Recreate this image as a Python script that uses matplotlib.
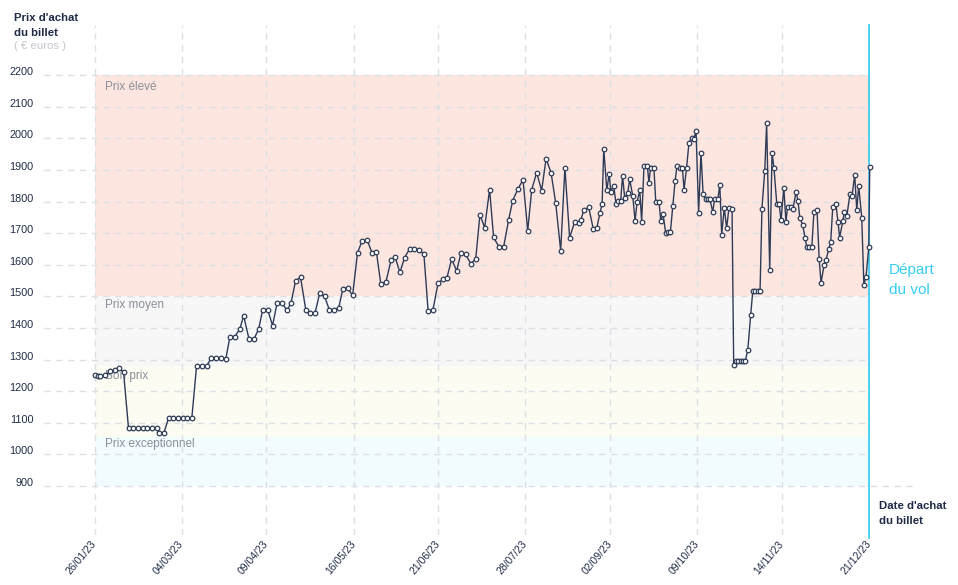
import matplotlib
matplotlib.use("Agg")
import matplotlib.pyplot as plt
import numpy as np
import pandas as pd

plt.rcParams['font.family'] = ['Liberation Sans', 'DejaVu Sans']

# ---------------- data ----------------
start_date = "2023-01-26"
day_offsets = [
    0, 1.3, 2.5, 4.4, 6.5, 8.6, 10.3, 12.3, 14.4, 16.4, 18.4, 20.4, 22.3, 24.3, 26.3,
    27.4, 29.4, 31.4, 33.4, 35.4, 37.4, 39.3, 41.3, 43.3, 45.5, 47.6, 49.4, 51.4, 53.5,
    55.7, 57.5, 59.6, 61.7, 63.3, 65.6, 67.7, 69.7, 71.4, 73.5, 75.6, 77.5, 79.7, 81.7,
    83.4, 85.4, 87.5, 89.7, 91.6, 93.6, 95.6, 97.7, 99.7, 101.7, 103.7, 105.5, 107.5,
    109.6, 111.7, 113.6, 115.7, 117.8, 119.7, 121.6, 123.8, 125.9, 127.6, 129.7, 131.7,
    133.8, 135.8, 137.9, 139.9, 141.7, 143.7, 145.9, 147.9, 149.6, 151.7, 153.8, 155.6,
    157.6, 159.8, 161.9, 163.7, 165.7, 167.8, 169.5, 171.7, 173.8, 175.9, 177.6, 179.9,
    182.0, 184.0, 185.7, 187.8, 189.9, 191.8, 193.9, 195.9, 198.0, 199.8, 201.8, 204.0,
    205.7, 206.6, 207.8, 209.9, 211.9, 213.3, 214.7, 215.6, 216.3, 217.6, 218.6, 219.3,
    220.5, 221.5, 222.4, 223.5, 224.3, 225.2, 226.5, 227.3, 228.6, 229.6, 230.5, 231.6,
    232.4, 233.4, 234.8, 235.5, 236.2, 237.6, 238.4, 239.8, 240.5, 241.5, 242.6, 243.6,
    244.6, 245.6, 246.6, 247.4, 248.7, 249.7, 250.4, 251.5, 252.5, 253.7, 254.6, 255.5,
    256.6, 257.6, 258.5, 259.6, 260.7, 261.4, 262.6, 263.4, 264.8, 265.6, 266.4, 267.5,
    268.5, 269.5, 270.8, 271.5, 272.5, 273.5, 274.5, 275.5, 276.4, 277.5, 278.7, 279.6,
    280.6, 281.7, 282.7, 283.5, 284.7, 285.5, 286.8, 287.8, 288.6, 289.8, 290.8, 291.6,
    292.8, 293.7, 294.4, 295.7, 296.7, 298.0, 298.8, 299.6, 300.8, 301.8, 302.5, 303.6,
    304.7, 305.6, 306.9, 307.8, 308.6, 309.9, 310.7, 311.9, 312.7, 313.6, 314.9, 315.8,
    316.5, 317.9, 318.5, 319.6, 320.9, 321.8, 322.9, 323.8, 324.6, 325.9, 326.8, 327.7,
    328.9, 329.3,
]
prices = [
    1250, 1247, 1247, 1250, 1263, 1266, 1273, 1260, 1083, 1083, 1083, 1083, 1083, 1083, 1083,
    1067, 1067, 1115, 1115, 1115, 1115, 1115, 1115, 1279, 1279, 1279, 1304, 1304, 1304,
    1301, 1373, 1373, 1397, 1439, 1365, 1365, 1397, 1458, 1458, 1408, 1478, 1478, 1456,
    1478, 1550, 1560, 1458, 1446, 1446, 1510, 1500, 1458, 1458, 1464, 1525, 1527,
    1503, 1639, 1674, 1680, 1639, 1642, 1538, 1547, 1614, 1626, 1576, 1623,
    1650, 1650, 1648, 1633, 1453, 1456, 1542, 1554, 1557, 1618, 1581, 1636,
    1633, 1604, 1618, 1759, 1718, 1838, 1687, 1658, 1658, 1743, 1803, 1841,
    1869, 1708, 1838, 1892, 1835, 1936, 1892, 1795, 1645, 1907, 1686, 1737,
    1732, 1743, 1772, 1782, 1712, 1715, 1765, 1791, 1968, 1836, 1888, 1832,
    1851, 1794, 1803, 1803, 1882, 1811, 1828, 1871, 1819, 1740, 1800, 1836,
    1737, 1914, 1914, 1860, 1908, 1908, 1798, 1798, 1740, 1760, 1701, 1703,
    1703, 1785, 1864, 1912, 1908, 1908, 1838, 1908, 1986, 2000, 1997, 2025,
    1765, 1955, 1825, 1807, 1807, 1807, 1768, 1809, 1809, 1854, 1695, 1781,
    1716, 1781, 1778, 1284, 1295, 1295, 1295, 1295, 1295, 1331, 1440, 1516,
    1516, 1516, 1516, 1778, 1898, 2048, 1585, 1955, 1907, 1794, 1794, 1741,
    1844, 1737, 1784, 1782, 1777, 1832, 1803, 1748, 1727, 1686, 1658, 1658,
    1658, 1768, 1775, 1620, 1544, 1598, 1614, 1651, 1671, 1784, 1794, 1737,
    1686, 1740, 1767, 1756, 1825, 1819, 1885, 1772, 1851, 1749, 1537, 1562,
    1655, 1910,
]
tick_dates = ["2023-01-26", "2023-03-04", "2023-04-09", "2023-05-16", "2023-06-21",
              "2023-07-28", "2023-09-02", "2023-10-09", "2023-11-14", "2023-12-21"]
tick_labels = ["26/01/23", "04/03/23", "09/04/23", "16/05/23", "21/06/23",
               "28/07/23", "02/09/23", "09/10/23", "14/11/23", "21/12/23"]
y_ticks = [900, 1000, 1100, 1200, 1300, 1400, 1500, 1600, 1700, 1800, 1900, 2000, 2100, 2200]
band_names = ["Prix exceptionnel", "Bon prix", "Prix moyen", "Prix élevé"]
band_bounds = [900, 1055, 1280, 1500, 2200]
departure_date = "2023-12-21"

# ---------------- figure ----------------
W, H = 958, 585
fig = plt.figure(figsize=(W / 100, H / 100), dpi=100)
ax = fig.add_axes([44 / W, 1 - 535 / H, (918 - 44) / W, (535 - 25) / H])

start = pd.Timestamp(start_date)
dates = (start + pd.to_timedelta(day_offsets, unit="D")).to_numpy()
tdates = pd.to_datetime(tick_dates).to_numpy()
dep = pd.Timestamp(departure_date)

xmin = start - pd.Timedelta(days=21.5)
xmax = start + pd.Timedelta(days=349.8)
ax.set_xlim(xmin, xmax)
ax.set_ylim(745, 2359)

navy = "#1f2b47"
grid_c = "#dcdfe3"
band_colors = ["#f2fbfe", "#fcfcf3", "#f7f7f8", "#fde6e0"]

# bands
for i, name in enumerate(band_names):
    ax.fill_between([start, dep], band_bounds[i], band_bounds[i + 1],
                    color=band_colors[i], lw=0, zorder=0)
label_y = [1033, 1248, 1473, 2163]
for name, yv in zip(band_names, label_y):
    ax.text(start + pd.Timedelta(days=4.5), yv, name, fontsize=8.5,
            color="#8b909a", va="center", ha="left", zorder=1)

# horizontal grid
for yv in y_ticks:
    right = xmax if yv == 900 else dep
    ax.plot([xmin, right], [yv, yv], color=grid_c, lw=1.0,
            linestyle=(0, (4.5, 4)), zorder=0.5)
# vertical grid
for td in tdates[:-1]:
    ax.axvline(td, color=grid_c, lw=1.0, linestyle=(0, (4.5, 4)), zorder=0.5)

# departure line
ax.axvline(dep, color="#2ec8f2", lw=1.2, ymin=-0.005, ymax=1, zorder=3, clip_on=False)

# series
ax.plot(dates, prices, color="#2e3b57", lw=1.0, marker="o", markersize=3.3,
        markerfacecolor="white", markeredgecolor="#2e3b57", markeredgewidth=0.9,
        zorder=4, clip_on=False)

# axes styling
for s in ax.spines.values():
    s.set_visible(False)
ax.set_yticks(y_ticks)
ax.set_yticklabels([str(v) for v in y_ticks])
ax.tick_params(axis="y", length=0, pad=7.5, labelsize=7.8, labelcolor=navy)
for lab in ax.get_yticklabels():
    lab.set_va("baseline")
ax.set_xticks(tdates)
ax.set_xticklabels(tick_labels)
ax.tick_params(axis="x", length=0, pad=5, labelsize=7.5, labelcolor=navy)
for lab in ax.get_xticklabels():
    lab.set_rotation(50)
    lab.set_ha("right")
    lab.set_va("center")
    lab.set_rotation_mode("anchor")

# texts
def ftext(x, y, s, **kw):
    fig.text(x / W, 1 - y / H, s, **kw)

ftext(14, 18, "Prix d'achat", fontsize=8.2, fontweight="bold", color=navy, va="center")
ftext(14, 33, "du billet", fontsize=8.2, fontweight="bold", color=navy, va="center")
ftext(14, 46, "( € euros )", fontsize=8.2, color="#c3c6cc", va="center")
ftext(879, 506, "Date d'achat", fontsize=8.2, fontweight="bold", color=navy, va="center")
ftext(879, 521, "du billet", fontsize=8.2, fontweight="bold", color=navy, va="center")
ftext(889, 270, "Départ", fontsize=11, color="#35cdf3", va="center")
ftext(889, 290, "du vol", fontsize=11, color="#35cdf3", va="center")

fig.savefig("out.png", dpi=100, facecolor="white")
